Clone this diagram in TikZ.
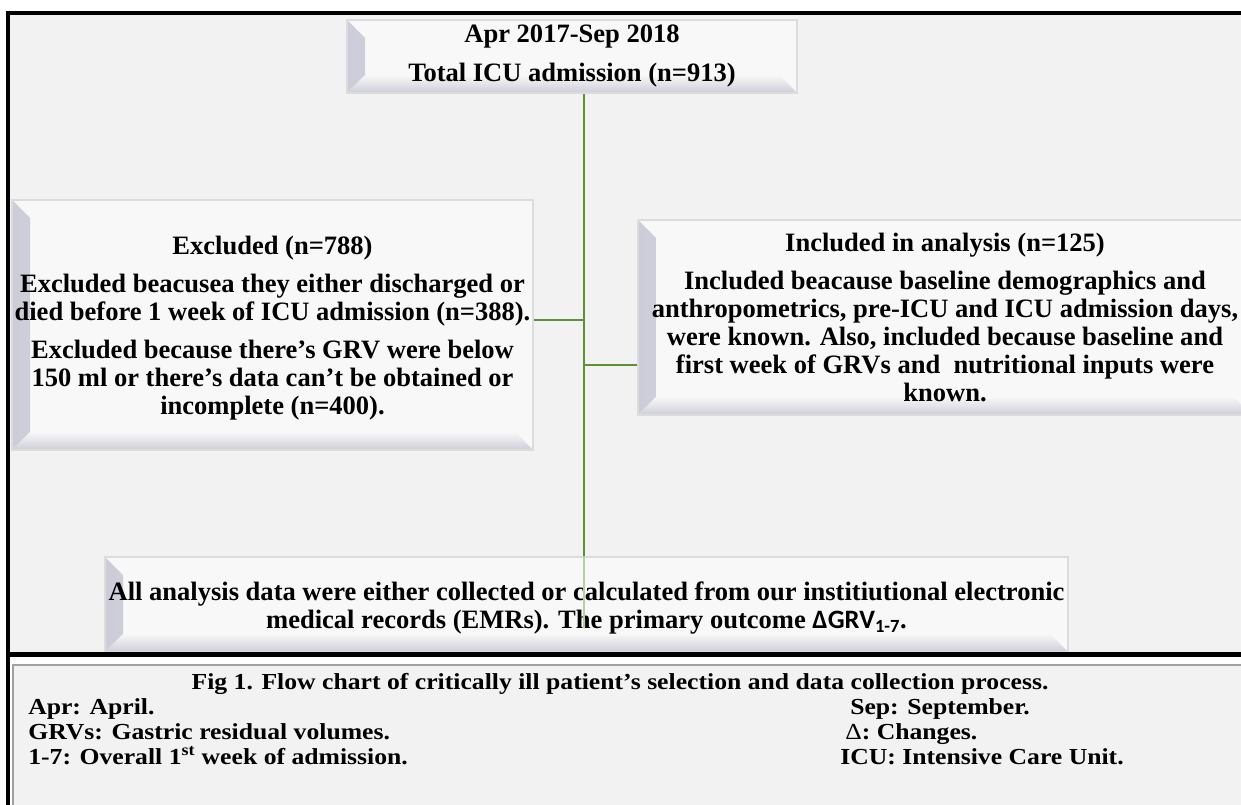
\documentclass[tikz,border=0pt]{standalone}
\usepackage{fontspec}
\setmainfont{Liberation Serif}
\newfontfamily\carlito{Carlito}
\newfontfamily\capserif[FakeStretch=1.12]{Liberation Serif}
\usetikzlibrary{calc}
\definecolor{bg}{HTML}{F2F2F2}
\definecolor{boxfill}{HTML}{F8F8F8}
\definecolor{boxedge}{HTML}{DCDCDC}
\definecolor{bevel}{HTML}{CDCDD9}
\definecolor{linegreen}{RGB}{94,145,52}
\definecolor{capedge}{HTML}{A0A0A0}
\begin{document}
\begin{tikzpicture}[x=0.75pt,y=-0.75pt,
  flowbox/.style={draw=boxedge, line width=1.2pt, fill=boxfill, inner sep=0pt, align=center,
    font=\bfseries\fontsize{19.9}{21}\selectfont,
    path picture={
      \shade[left color=bevel, right color=boxfill]
        (path picture bounding box.north west) -- ([shift={(18,18)}]path picture bounding box.north west)
        -- ([shift={(18,-18)}]path picture bounding box.south west) -- (path picture bounding box.south west) -- cycle;
      \shade[top color=boxfill, bottom color=bevel]
        (path picture bounding box.south west) -- ([shift={(18,-18)}]path picture bounding box.south west)
        -- ([shift={(-18,-18)}]path picture bounding box.south east) -- (path picture bounding box.south east) -- cycle;
    }},
  conn/.style={draw=linegreen, line width=1.9pt},
  captext/.style={inner sep=0pt, font=\capserif\bfseries\fontsize{17.2}{18.75}\selectfont, anchor=base west}
]
\useasboundingbox (0,0) rectangle (1241,805);
\fill[white] (0,0) rectangle (1241,805);
\fill[bg] (8,13) rectangle (1241,654);
% outer frame
\draw[line width=3pt] (8,805) -- (8,13) -- (1241,13);
% caption panel
\filldraw[fill=bg, draw=capedge, line width=1.5pt] (13,665) rectangle (1248,812);

% junction coordinates
\coordinate (vend) at (584,628);
\coordinate (jL) at (584,320);
\coordinate (jR) at (584,365);

% boxes
\node[flowbox, minimum width={450*0.75pt}, minimum height={73*0.75pt}] (T) at (572,56.5)
  {Apr 2017-Sep 2018\\[8.25pt]Total ICU admission (n=913)};
\node[flowbox, minimum width={521*0.75pt}, minimum height={250*0.75pt}] (L) at (272.5,325)
  {\rule{0pt}{18.75pt}Excluded (n=788)\\[7.5pt]
   Excluded beacusea they either discharged or\\
   died before 1 week of ICU admission (n=388).\\[7.5pt]
   Excluded because there's GRV were below\\
   150 ml or there's data can’t be obtained or\\
   incomplete (n=400).};
\node[flowbox, minimum width={614*0.75pt}, minimum height={195*0.75pt}] (R) at (945,317.5)
  {Included in analysis (n=125)\\[7.5pt]
   Included beacause baseline demographics and\\
   anthropometrics, pre-ICU and ICU admission days,\\
   were known. Also, included because baseline and\\
   first week of GRVs and~ nutritional inputs were\\
   known.};

% connectors
\draw[conn] (vend |- T.south) -- (vend |- 557,557);
\draw[conn] (L.east |- jL) -- (jL);
\draw[conn] (jR) -- (R.west |- jR);

\node[flowbox, minimum width={963*0.75pt}, minimum height={95*0.75pt}] (B) at (586.5,604.5)
  {\rule{0pt}{19.5pt}All analysis data were either collected or calculated from our institiutional electronic\\
   medical records (EMRs). The primary outcome {\carlito ΔGRV\textsubscript{1-7}}.};
\draw[draw=linegreen!45, line width=1.2pt] (vend |- B.north) -- (vend);

% separator
\draw[line width=3.75pt] (6,654.5) -- (1241,654.5);

% caption
\node[captext, anchor=base] (capT) at (620,689) {Fig 1. Flow chart of critically ill patient’s selection and data collection process.};
\node[captext] (c1) at (28,714) {Apr: April.};
\node[captext] (c2) at (28,739) {GRVs: Gastric residual volumes.};
\node[captext] (c3) at (28,764) {1-7: Overall 1\textsuperscript{st} week of admission.};
\node[captext] (c4) at (850,714) {Sep: September.};
\node[captext] (c5) at (845,739) {{\mdseries Δ}: Changes.};
\node[captext] (c6) at (840,764) {ICU: Intensive Care Unit.};
\end{tikzpicture}
\end{document}
